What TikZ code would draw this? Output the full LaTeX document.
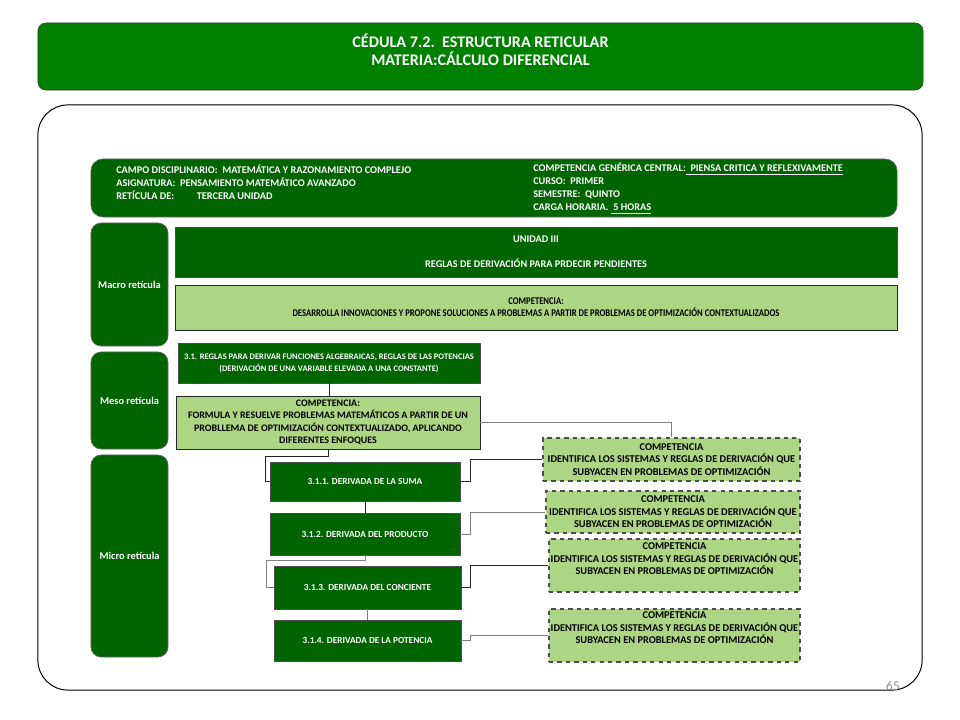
\documentclass[tikz,border=0pt]{standalone}
\usepackage{fontspec}
\setmainfont{Carlito}
\newfontfamily\narrowfont[FakeStretch=0.84]{Carlito}
\usepackage{xcolor}
\usepackage{tikz}
\usetikzlibrary{positioning,calc}
\definecolor{titlegreen}{RGB}{0,128,0}
\definecolor{dkgreen}{RGB}{0,100,0}
\definecolor{ltgreen}{RGB}{172,214,132}
\newcommand{\fs}[2]{\fontsize{#1}{#2}\selectfont}

\begin{document}
\begin{tikzpicture}[
    x=0.025cm, y=-0.025cm,
    titlebox/.style={draw=black!80, fill=titlegreen, rounded corners=0.2cm, text=white, align=center, font=\fs{11.5}{12.8}\bfseries, minimum width=22.125cm, minimum height=1.675cm, text depth=10pt},
    headbox/.style={draw=black!60, fill=dkgreen, rounded corners=0.3cm, minimum width=20.15cm, minimum height=1.45cm},
    headtext/.style={text=white, align=left, anchor=west, inner sep=0pt, font=\fs{7.3}{9.2}\bfseries},
    levelbox/.style={draw=black!60, fill=dkgreen, rounded corners=0.25cm, text=white, align=center, font=\fs{7.4}{8.5}\bfseries, minimum width=1.925cm},
    dkbox/.style={draw=black!70, fill=dkgreen, text=white, align=center, inner sep=1pt},
    ltbox/.style={draw=black!85, fill=ltgreen, align=center, inner sep=1pt},
    cbox/.style={draw=black!70, dashed, line width=0.8pt, fill=ltgreen, align=center, inner sep=1pt, font=\fs{7.4}{8.9}\bfseries},
    ctext/.style={align=center, inner sep=0pt, font=\fs{7.4}{8.9}\bfseries},
    link/.style={draw=black!85, line width=0.6pt},
    glink/.style={draw=black!50, line width=0.7pt}
]
\useasboundingbox (0,0) rectangle (960,720);

% heading
\node[titlebox] (title) at (480.5,56.5) {CÉDULA 7.2.\ \ ESTRUCTURA RETICULAR\\MATERIA:CÁLCULO DIFERENCIAL};
\node[draw=black, line width=0.7pt, fill=white, rounded corners=0.75cm, minimum width=22.1cm, minimum height=14.625cm] (frame) at (480,397.5) {};
\node[text=black!45, font=\fs{9.5}{11}] (page) at (893,686) {65};

% datos generales
\node[headbox] (head) at (494,188) {};
\node[headtext] (headl) at (116,182) {CAMPO DISCIPLINARIO:\ \ MATEMÁTICA Y RAZONAMIENTO COMPLEJO\\ASIGNATURA:\ \ PENSAMIENTO MATEMÁTICO AVANZADO\\RETÍCULA DE:\hspace{2.2em}TERCERA UNIDAD};
\node[headtext] (headr) at (533,188.5) {COMPETENCIA GENÉRICA CENTRAL:\underline{\ \ PIENSA CRITICA Y REFLEXIVAMENTE}\\CURSO:\ \ PRIMER\\SEMESTRE:\ \ QUINTO\\CARGA HORARIA.\ \underline{\ 5 HORAS}};

% niveles
\node[levelbox, minimum height=3.075cm] (macro) at (129.5,284.5) {Macro retícula};
\node[levelbox, minimum height=2.425cm] (meso) at (129.5,400.5) {Meso retícula};
\node[levelbox, minimum height=5.05cm] (micro) at (129.5,556) {Micro retícula};

% macro reticula
\node[dkbox, font=\fs{7.3}{8.9}\bfseries, minimum width=18.05cm, minimum height=1.25cm] (unidad) at (536,252) {UNIDAD III\\[8.9pt]REGLAS DE DERIVACIÓN PARA PRDECIR PENDIENTES};
\node[ltbox, font=\narrowfont\fs{7.3}{8.5}\bfseries, minimum width=18.05cm, minimum height=1.125cm] (macroc) at (536,307.5) {COMPETENCIA:\\DESARROLLA INNOVACIONES Y PROPONE SOLUCIONES A PROBLEMAS A PARTIR DE PROBLEMAS DE OPTIMIZACIÓN CONTEXTUALIZADOS};

% meso reticula
\node[dkbox, font=\fs{6.05}{8.5}\bfseries, minimum width=7.55cm, minimum height=1.0cm] (r31) at (329,363) {3.1. REGLAS PARA DERIVAR FUNCIONES ALGEBRAICAS, REGLAS DE LAS POTENCIAS\\(DERIVACIÓN DE UNA VARIABLE ELEVADA A UNA CONSTANTE)};
\node[ltbox, font=\fs{7.1}{8.8}\bfseries, minimum width=7.6cm, minimum height=1.325cm] (mesoc) at (328,422.5) {COMPETENCIA:\\FORMULA Y RESUELVE PROBLEMAS MATEMÁTICOS A PARTIR DE UN\\PROBLLEMA DE OPTIMIZACIÓN CONTEXTUALIZADO, APLICANDO\\DIFERENTES ENFOQUES};

% micro reticula
\node[dkbox, font=\fs{6.6}{8}\bfseries, minimum width=4.75cm, minimum height=0.975cm] (s1) at (365,481.5) {3.1.1. DERIVADA DE LA SUMA};
\node[dkbox, font=\fs{6.6}{8}\bfseries, minimum width=4.75cm, minimum height=1.05cm] (s2) at (365,534) {3.1.2. DERIVADA DEL PRODUCTO};
\node[dkbox, font=\fs{6.6}{8}\bfseries, minimum width=4.675cm, minimum height=1.075cm] (s3) at (367.5,587.5) {3.1.3. DERIVADA DEL CONCIENTE};
\node[dkbox, font=\fs{6.6}{8}\bfseries, minimum width=4.675cm, minimum height=1.025cm] (s4) at (367.5,640.5) {3.1.4. DERIVADA DE LA POTENCIA};

\node[cbox, minimum width=6.425cm, minimum height=1.075cm] (c1) at (671.5,459.5) {COMPETENCIA\\IDENTIFICA LOS SISTEMAS Y REGLAS DE DERIVACIÓN QUE\\SUBYACEN EN PROBLEMAS DE OPTIMIZACIÓN};
\node[cbox, minimum width=6.35cm, minimum height=1.05cm] (c2) at (673,512) {COMPETENCIA\\IDENTIFICA LOS SISTEMAS Y REGLAS DE DERIVACIÓN QUE\\SUBYACEN EN PROBLEMAS DE OPTIMIZACIÓN};
\node[cbox, minimum width=6.275cm, minimum height=1.325cm, label={[ctext, yshift=0.16cm]center:{COMPETENCIA\\IDENTIFICA LOS SISTEMAS Y REGLAS DE DERIVACIÓN QUE\\SUBYACEN EN PROBLEMAS DE OPTIMIZACIÓN}}] (c3) at (674.5,565.5) {};
\node[cbox, minimum width=6.275cm, minimum height=1.325cm, label={[ctext, yshift=0.19cm]center:{COMPETENCIA\\IDENTIFICA LOS SISTEMAS Y REGLAS DE DERIVACIÓN QUE\\SUBYACEN EN PROBLEMAS DE OPTIMIZACIÓN}}] (c4) at (674.5,635.5) {};

% conectores
\draw[link] (r31.south) -- (r31.south |- mesoc.north);
\draw[glink] (mesoc.east) -| (c1.north);
\draw[link] (mesoc.south) |- ++(-63,7) |- (s1.west);
\draw[link] (s1.east) -- ++(10,0) |- (c1.west);
\draw[link] (s1.south) -- (s2.north);
\draw[glink] (s2.east) -- ++(10,0) |- (c2.west);
\draw[glink] (s2.south) |- ++(-99,5) |- (s3.west);
\draw[link] (s3.east) -- ++(9,0) |- (c3.west);
\draw[glink] (s3.south) -- (s4.north);
\draw[glink] (s4.east) -- ++(9,0) |- (c4.west);

\end{tikzpicture}
\end{document}
